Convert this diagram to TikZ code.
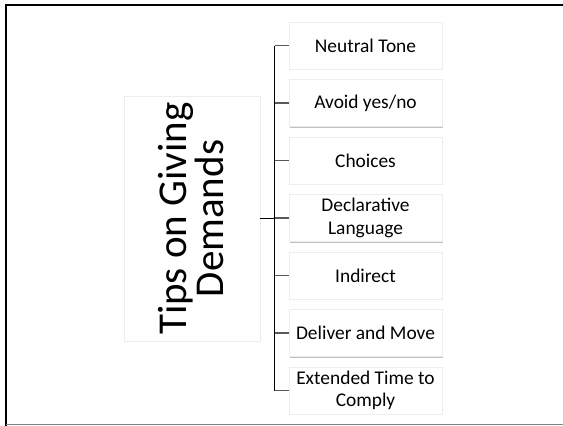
\documentclass[tikz,border=0pt]{standalone}
\usepackage{fontspec}
\setmainfont{Carlito}
\usetikzlibrary{shadows}
\begin{document}
\begin{tikzpicture}[x=1pt,y=-1pt,
  boxshadow/.style={drop shadow={shadow xshift=0.5pt, shadow yshift=-1.3pt, opacity=0.45, fill=black!55}},
  tipbox/.style={draw=black!7, fill=white, minimum width=153pt, minimum height=47pt,
    inner sep=0pt, align=center, font=\fontsize{19.4}{22.5}\selectfont, boxshadow},
  rootbox/.style={draw=black!7, fill=white, minimum width=136pt, minimum height=245pt,
    inner sep=0pt, boxshadow},
  roottext/.style={rotate=90, align=center, inner sep=0pt, font=\fontsize{41}{37.6}\selectfont},
  trunk/.style={draw=black, line width=1.1pt},
  branch/.style={draw=black!65, line width=1.1pt},
  frameline/.style={draw=black, line width=1.8pt}]
\useasboundingbox (0,0) rectangle (563,426);

% outer frame
\draw[frameline] (6,426) -- (6,5) -- (563,5);
\draw[draw=black!50, line width=1pt] (6,424.6) -- (563,424.6);

% central topic
\node[rootbox] (root) at (192,218.5) {};
\node[roottext] (rootlabel) at ([xshift=-1pt]root.center) {Tips on Giving\\Demands};

% list of tips
\node[tipbox] (t1) at (365.5,45.5) {Neutral Tone};
\node[tipbox] (t2) at (365.5,103) {Avoid yes/no};
\node[tipbox] (t3) at (365.5,160.5) {Choices};
\node[tipbox] (t4) at (365.5,218) {Declarative\\Language};
\node[tipbox] (t5) at (365.5,275.5) {Indirect};
\node[tipbox] (t6) at (365.5,333) {Deliver and Move};
\node[tipbox] (t7) at (365.5,390.5) {Extended Time to\\Comply};

% connectors
\coordinate (spine) at (274.5,0);
\draw[trunk] (spine |- t1.west) -- (spine |- t7.west);
\draw[trunk, line width=1.6pt] (root.east) -- (spine |- root.east);
\foreach \i in {1,...,7}
  \draw[branch] (spine |- t\i.west) -- (t\i.west);
\end{tikzpicture}
\end{document}
